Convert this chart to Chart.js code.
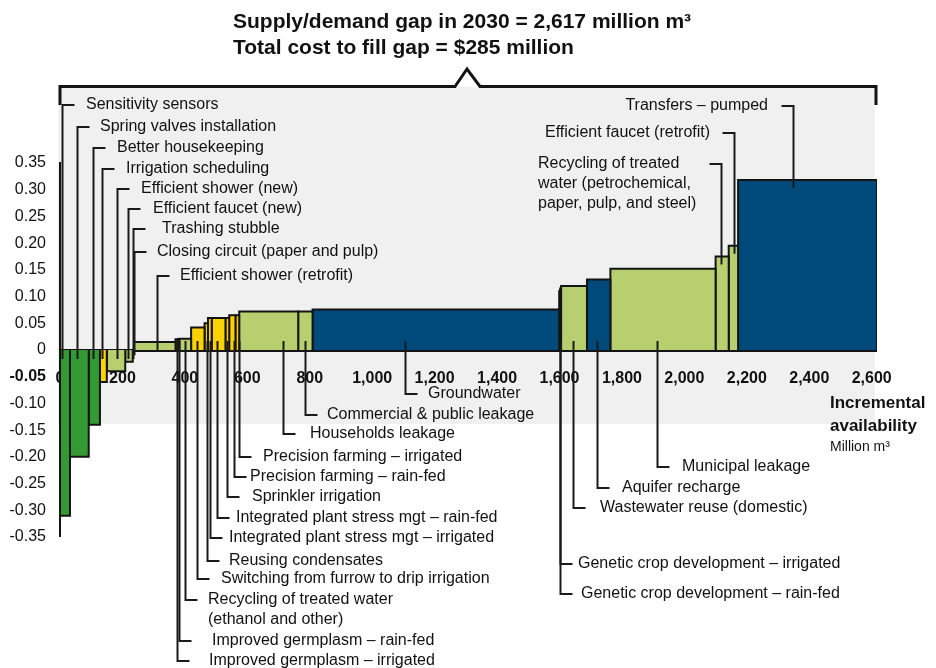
<!DOCTYPE html>
<html>
<head>
<meta charset="utf-8">
<script src="https://cdn.jsdelivr.net/npm/chart.js@4/dist/chart.umd.min.js"></script>
<style>
  html, body { margin: 0; padding: 0; background: #fff; }
  #wrap { width: 936px; height: 668px; }
</style>
</head>
<body>
<div id="wrap"><canvas id="curve" width="936" height="668"></canvas></div>
<script>
// levers in cost order, width = million m3, cost = $/m3
const levers = [
  "Sensitivity sensors", "Spring valves installation", "Better housekeeping",
  "Irrigation scheduling", "Efficient shower (new)", "Efficient faucet (new)",
  "Trashing stubble", "Closing circuit (paper and pulp)", "Efficient shower (retrofit)",
  "Improved germplasm \u2013 irrigated", "Improved germplasm \u2013 rain-fed",
  "Recycling of treated water\n(ethanol and other)", "Switching from furrow to drip irrigation",
  "Reusing condensates", "Integrated plant stress mgt \u2013 irrigated",
  "Integrated plant stress mgt \u2013 rain-fed", "Sprinkler irrigation",
  "Precision farming \u2013 rain-fed", "Precision farming \u2013 irrigated",
  "Households leakage", "Commercial & public leakage", "Groundwater",
  "Genetic crop development \u2013 irrigated", "Genetic crop development \u2013 rain-fed",
  "Wastewater reuse (domestic)", "Aquifer recharge", "Municipal leakage",
  "Recycling of treated\nwater (petrochemical,\npaper, pulp, and steel)",
  "Efficient faucet (retrofit)", "Transfers \u2013 pumped"
];
const widths = [32, 60, 36, 22, 59, 24, 2, 2, 133, 7, 5, 38, 43, 11, 12, 44, 12, 20, 12,
  189, 46, 790, 3, 3, 83, 75, 337, 42, 30, 445];
const costs = [-0.31, -0.20, -0.14, -0.06, -0.04, -0.022, -0.005, 0.005, 0.015, 0.02, 0.02,
  0.021, 0.042, 0.05, 0.06, 0.06, 0.06, 0.065, 0.065, 0.072, 0.072, 0.076, 0.11, 0.115,
  0.12, 0.132, 0.152, 0.175, 0.195, 0.318];
const sectors = ["ind", "ind", "ind", "agr", "mun", "mun", "agr", "ind", "mun", "agr", "agr",
  "mun", "agr", "agr", "agr", "agr", "agr", "agr", "agr", "mun", "mun", "sup", "agr", "agr",
  "mun", "sup", "mun", "mun", "mun", "sup"];
const xTicks = [0, 200, 400, 600, 800, 1000, 1200, 1400, 1600, 1800, 2000, 2200, 2400, 2600];
const yTicks = [0.35, 0.30, 0.25, 0.20, 0.15, 0.10, 0.05, 0, -0.05, -0.10, -0.15, -0.20, -0.25, -0.30, -0.35];
const gapTotal = 2617;

const sectorColor = { ind: "#339933", agr: "#fad200", mun: "#b8cf70", sup: "#00497b" };
const FONT = '"Liberation Sans", Arial, sans-serif';

// where each label sits (px) and where its leader hits the bar (x in million m3)
const labelLayout = [
  { bar: 0, at: 5, x: 86, y: 105, side: "top" },
  { bar: 1, at: 53, x: 100, y: 127, side: "top" },
  { bar: 2, at: 107, x: 117, y: 148, side: "top" },
  { bar: 3, at: 134, x: 126, y: 169, side: "top" },
  { bar: 4, at: 182, x: 141, y: 189, side: "top" },
  { bar: 5, at: 217, x: 153, y: 209, side: "top" },
  { bar: 6, at: 234, x: 162, y: 229, side: "top" },
  { bar: 7, at: 236, x: 157, y: 252, side: "top" },
  { bar: 8, at: 310, x: 180, y: 276, side: "top" },
  { bar: 9, at: 374, x: 209, y: 661 },
  { bar: 10, at: 380, x: 212, y: 641 },
  { bar: 11, at: 400, x: 208, y: 600 },
  { bar: 12, at: 438, x: 221, y: 579 },
  { bar: 13, at: 470, x: 229, y: 561 },
  { bar: 14, at: 479, x: 229, y: 538 },
  { bar: 15, at: 502, x: 236, y: 518 },
  { bar: 16, at: 534, x: 252, y: 497 },
  { bar: 17, at: 557, x: 250, y: 477 },
  { bar: 18, at: 572, x: 263, y: 457 },
  { bar: 19, at: 714, x: 310, y: 434 },
  { bar: 20, at: 785, x: 327, y: 415 },
  { bar: 21, at: 1105, x: 428, y: 394 },
  { bar: 22, at: 1601, x: 578, y: 564 },
  { bar: 23, at: 1603, x: 581, y: 594 },
  { bar: 24, at: 1644, x: 600, y: 508 },
  { bar: 25, at: 1721, x: 622, y: 488 },
  { bar: 26, at: 1911, x: 682, y: 467 },
  { bar: 27, at: 2116, x: 538, y: 164, side: "top", stubLeft: true },
  { bar: 28, at: 2159, x: 545, y: 133, side: "top", stubLeft: true },
  { bar: 29, at: 2347, x: 768, y: 106, side: "top", stubLeft: true, align: "right" }
];

// one closed outline per lever, laid side by side along the x axis
let run = 0;
const datasets = widths.map((w, i) => {
  const x0 = run, x1 = run + w;
  run = x1;
  return {
    label: levers[i],
    data: [{ x: x0, y: 0 }, { x: x0, y: costs[i] }, { x: x1, y: costs[i] }, { x: x1, y: 0 }],
    borderColor: "#141414",
    borderWidth: 2,
    backgroundColor: sectorColor[sectors[i]],
    fill: "origin",
    pointRadius: 0,
    tension: 0,
    borderJoinStyle: "miter"
  };
});

const decor = {
  id: "decor",
  beforeDraw(chart) {
    const c = chart.ctx;
    c.save();
    c.fillStyle = "#f0f0f0";
    c.fillRect(58, 87, 817, 337);
    c.strokeStyle = "#141414";
    c.lineWidth = 3;
    c.lineJoin = "miter";
    c.beginPath();
    c.moveTo(60, 105); c.lineTo(60, 86.5); c.lineTo(455, 86.5); c.lineTo(467, 69);
    c.lineTo(480, 86.5); c.lineTo(876, 86.5); c.lineTo(876, 105);
    c.stroke();
    c.restore();
  },
  afterDraw(chart) {
    const c = chart.ctx;
    const xs = chart.scales.x, ys = chart.scales.y;
    const zero = ys.getPixelForValue(0);
    c.save();
    c.fillStyle = "#111";
    c.textBaseline = "middle";
    c.font = "bold 21px " + FONT;
    c.fillText("Supply/demand gap in 2030 = 2,617 million m\u00b3", 233, 22);
    c.fillText("Total cost to fill gap = $285 million", 233, 48);

    c.strokeStyle = "#1a1a1a";
    c.lineWidth = 2;
    c.font = "16px " + FONT;
    labelLayout.forEach(a => {
      const px = Math.round(xs.getPixelForValue(a.at)) + 0.5;
      const v = costs[a.bar];
      let yEnd;
      if (a.side === "top") yEnd = v < 0 ? zero + 9 : ys.getPixelForValue(v) + 8;
      else yEnd = zero - 9;
      c.beginPath();
      if (a.stubLeft) c.moveTo(px - 12, a.y); else c.moveTo(px + 12, a.y);
      c.lineTo(px, a.y);
      c.lineTo(px, yEnd);
      c.stroke();
      c.textAlign = a.align || "left";
      levers[a.bar].split("\n").forEach((t, k) => c.fillText(t, a.x, a.y + k * 20));
    });

    c.textAlign = "left";
    c.font = "bold 17px " + FONT;
    c.fillText("Incremental", 830, 403);
    c.fillText("availability", 830, 426);
    c.font = "14px " + FONT;
    c.fillText("Million m\u00b3", 830, 447);
    c.restore();
  }
};

new Chart(document.getElementById("curve"), {
  type: "line",
  data: { datasets },
  options: {
    responsive: false,
    animation: false,
    layout: { padding: { top: 163, bottom: 131, left: 0, right: 59 } },
    plugins: { legend: { display: false }, tooltip: { enabled: false } },
    scales: {
      x: {
        type: "linear",
        min: 0,
        max: gapTotal,
        position: { y: -0.05 },
        z: 1,
        afterBuildTicks: s => { s.ticks = xTicks.map(v => ({ value: v })); },
        afterFit: s => { s.height = 0; },
        grid: { display: false },
        border: { display: false },
        ticks: {
          autoSkip: false,
          maxRotation: 0,
          padding: -16,
          color: "#111",
          font: { family: FONT, size: 16, weight: "bold" },
          callback: v => v.toLocaleString("en-US")
        }
      },
      y: {
        min: -0.35,
        max: 0.35,
        z: 1,
        afterBuildTicks: s => { s.ticks = yTicks.map(v => ({ value: v })); },
        afterFit: s => { s.width = 60; },
        grid: {
          drawTicks: false,
          color: c => (c.tick && c.tick.value === 0 ? "#141414" : "rgba(0,0,0,0)"),
          lineWidth: c => (c.tick && c.tick.value === 0 ? 3 : 0)
        },
        border: { display: true, color: "#141414", width: 2 },
        ticks: {
          padding: 14,
          color: "#111",
          font: c => ({ family: FONT, size: 16, weight: c.tick && c.tick.value === -0.05 ? "bold" : "normal" }),
          callback: v => (v === 0 ? "0" : v.toFixed(2))
        }
      }
    }
  },
  plugins: [decor]
});
</script>
</body>
</html>
